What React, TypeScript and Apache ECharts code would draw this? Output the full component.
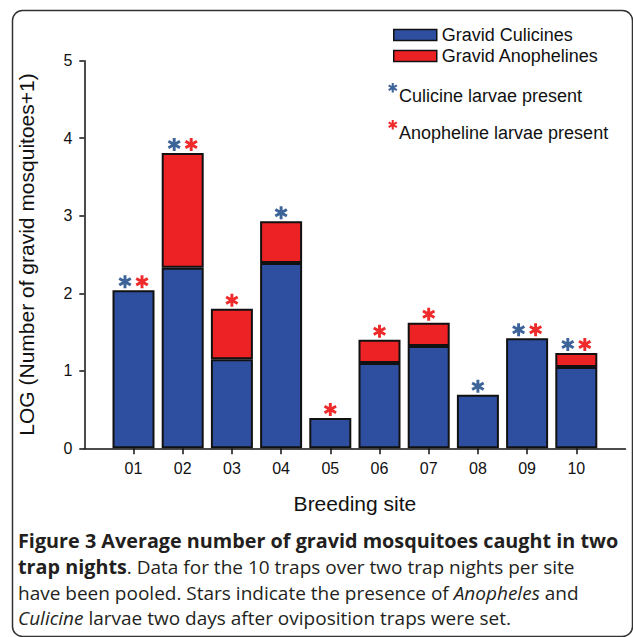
import React, { useEffect, useRef } from 'react';
import * as echarts from 'echarts';

const categories = ['01', '02', '03', '04', '05', '06', '07', '08', '09', '10'];
const culicines = [2.04, 2.33, 1.15, 2.39, 0.39, 1.1, 1.32, 0.69, 1.42, 1.05];
const anophelines = [0, 1.48, 0.65, 0.54, 0, 0.3, 0.3, 0, 0, 0.18];
const culicineLarvae = [1, 1, 0, 1, 0, 0, 0, 1, 1, 1];
const anophelineLarvae = [1, 1, 1, 0, 1, 1, 1, 0, 1, 1];

const BLUE = '#2e4fa0';
const RED = '#ed2224';
const STAR_BLUE = '#3d6499';
const STAR_RED = '#ee2a2a';

const asteriskPath =
  'M39 0L61 0L61 100L39 100Z M87.8 15.5L98.8 34.5L12.2 84.5L1.2 65.5Z M98.8 65.5L87.8 84.5L1.2 34.5L12.2 15.5Z';

let registered = false;
function ensureShape() {
  if (registered) return;
  echarts.graphic.registerShape('asterisk', echarts.graphic.extendPath(asteriskPath, {}) as any);
  registered = true;
}

export default function App() {
  const ref = useRef<HTMLDivElement>(null);
  useEffect(() => {
    if (!ref.current) return;
    ensureShape();
    const chart = echarts.init(ref.current, undefined, { renderer: 'svg' });
    const axisData = ['', ...categories, ''];
    const pad = (arr: (number | string)[]) => ['-', ...arr, '-'];
    const blueStars: any[] = [];
    const redStars: any[] = [];
    categories.forEach((_, i) => {
      const total = culicines[i] + anophelines[i];
      const both = culicineLarvae[i] && anophelineLarvae[i];
      if (culicineLarvae[i]) blueStars.push({ value: [i + 1, total], symbolOffset: [both ? -8.5 : 0, -8.5] });
      if (anophelineLarvae[i]) redStars.push({ value: [i + 1, total], symbolOffset: [both ? 8.5 : 0, -8.5] });
    });
    const axisFont = "'Liberation Sans', Arial";
    const capFont = 'Open Sans';
    chart.setOption({
      animation: false,
      grid: { left: 84.3, right: 7.5, top: 60.7, bottom: 188.7, containLabel: false },
      legend: {
        data: ['Gravid Culicines', 'Gravid Anophelines'],
        orient: 'vertical',
        left: 388,
        top: 21,
        itemWidth: 43,
        itemHeight: 11,
        itemGap: 3,
        icon: 'rect',
        selectedMode: false,
        itemStyle: { borderColor: '#111', borderWidth: 1.5 },
        textStyle: { fontFamily: axisFont, fontSize: 18, color: '#111' },
      },
      xAxis: {
        type: 'category',
        data: axisData,
        boundaryGap: false,
        name: 'Breeding site',
        nameLocation: 'middle',
        nameGap: 45,
        nameTextStyle: { fontFamily: axisFont, fontSize: 21, color: '#111' },
        axisLine: { lineStyle: { color: '#111', width: 1.5 } },
        axisTick: { length: 6, lineStyle: { color: '#111', width: 1.5 }, interval: (i: number) => i > 0 && i < axisData.length - 1 },
        axisLabel: { interval: 0, margin: 12, fontFamily: axisFont, fontSize: 16, color: '#111' },
        splitLine: { show: false },
      },
      yAxis: {
        type: 'value',
        min: 0,
        max: 5,
        interval: 1,
        name: 'LOG (Number of gravid mosquitoes+1)',
        nameLocation: 'middle',
        nameGap: 47,
        nameTextStyle: { fontFamily: axisFont, fontSize: 21, color: '#111' },
        axisLine: { show: true, lineStyle: { color: '#111', width: 1.5 } },
        axisTick: { show: true, length: 5, lineStyle: { color: '#111', width: 1.5 } },
        axisLabel: { margin: 12, fontFamily: axisFont, fontSize: 16, color: '#111' },
        splitLine: { show: false },
      },
      series: [
        {
          name: 'Gravid Culicines',
          type: 'bar',
          stack: 'total',
          barWidth: 42,
          data: pad(culicines),
          itemStyle: { color: BLUE, borderColor: '#111', borderWidth: 2 },
        },
        {
          name: 'Gravid Anophelines',
          type: 'bar',
          stack: 'total',
          barWidth: 42,
          data: pad(anophelines.map((v) => (v === 0 ? '-' : v))),
          itemStyle: { color: RED, borderColor: '#111', borderWidth: 2 },
        },
        {
          name: 'Culicine larvae present',
          type: 'scatter',
          symbol: 'path://' + asteriskPath,
          symbolSize: 13,
          data: blueStars,
          itemStyle: { color: STAR_BLUE, opacity: 1 },
          z: 5,
        },
        {
          name: 'Anopheline larvae present',
          type: 'scatter',
          symbol: 'path://' + asteriskPath,
          symbolSize: 13,
          data: redStars,
          itemStyle: { color: STAR_RED, opacity: 1 },
          z: 5,
        },
      ],
      graphic: [
        {
          type: 'rect',
          shape: { x: 12.5, y: 10.5, width: 620, height: 626, r: 10 },
          style: { fill: 'none', stroke: '#333', lineWidth: 1.5 },
          silent: true,
        },
        { type: 'asterisk', x: 388, y: 83, scaleX: 0.095, scaleY: 0.095, style: { fill: STAR_BLUE } },
        {
          type: 'text',
          x: 399,
          y: 87,
          style: { text: 'Culicine larvae present', fontFamily: axisFont, fontSize: 18, fill: '#111', verticalAlign: 'top' },
        },
        { type: 'asterisk', x: 388, y: 120, scaleX: 0.095, scaleY: 0.095, style: { fill: STAR_RED } },
        {
          type: 'text',
          x: 399,
          y: 124,
          style: { text: 'Anopheline larvae present', fontFamily: axisFont, fontSize: 18, fill: '#111', verticalAlign: 'top' },
        },
        {
          type: 'text',
          x: 18,
          y: 528,
          style: {
            text:
              '{b|Figure 3 Average number of gravid mosquitoes caught in two}\n' +
              '{b|trap nights}{n|. Data for the 10 traps over two trap nights per site}\n' +
              '{n|have been pooled. Stars indicate the presence of }{i|Anopheles}{n| and}\n' +
              '{i|Culicine}{n| larvae two days after oviposition traps were set.}',
            verticalAlign: 'top',
            rich: {
              b: { fontFamily: capFont, fontWeight: 'bold', fontSize: 19.8, fill: '#231f20', lineHeight: 25.8 },
              n: { fontFamily: capFont, fontSize: 19, fill: '#231f20', lineHeight: 25.8 },
              i: { fontFamily: capFont, fontStyle: 'italic', fontSize: 19, fill: '#231f20', lineHeight: 25.8 },
            },
          },
        },
      ],
    });
    return () => chart.dispose();
  }, []);
  return <div ref={ref} style={{ position: 'absolute', left: 0, top: 0, width: 633, height: 637 }} />;
}
